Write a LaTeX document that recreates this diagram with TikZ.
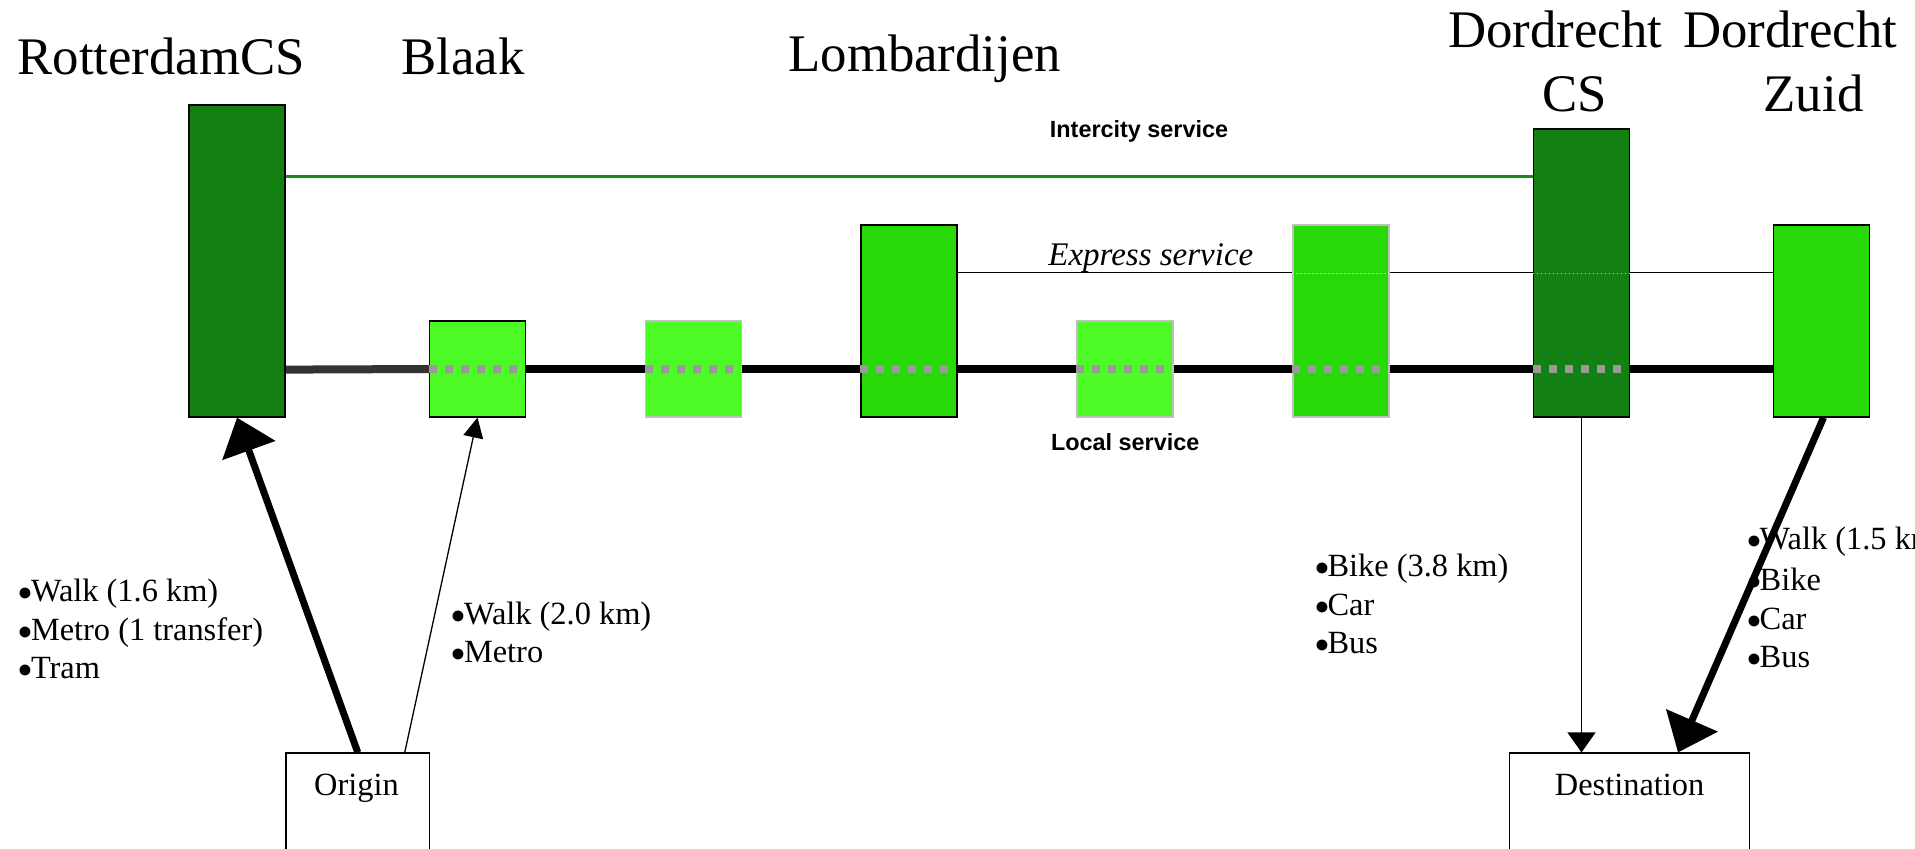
\documentclass[tikz,border=0pt]{standalone}
\usepackage{graphicx}
\usepackage{fontspec}
\setmainfont{Liberation Serif}
\newfontfamily\labsf{Liberation Sans}
\usetikzlibrary{arrows.meta,calc,backgrounds}
\definecolor{dkgreen}{HTML}{138012}
\definecolor{mdgreen}{HTML}{28D808}
\definecolor{ltgreen}{HTML}{4CFA26}
\definecolor{icgreen}{HTML}{178A17}
\definecolor{dashgray}{HTML}{999999}
\definecolor{edgegray}{HTML}{C0C0C0}
\definecolor{segdark}{HTML}{333333}
\newcommand\bul{\makebox[0.42em][l]{\raisebox{-0.22em}[0pt][0pt]{\scalebox{1.4}{•}}}}
\begin{document}
\begin{tikzpicture}[x=0.5pt, y=-0.5pt,
  stn/.style={rectangle, inner sep=0pt, minimum width=48pt, line width=0.6pt},
  txt/.style={inner sep=0pt, anchor=base west},
  ttl/.style={txt, font=\fontsize{26.4pt}{30pt}\selectfont},
  lst/.style={txt, font=\fontsize{16.2pt}{19pt}\selectfont},
  svc/.style={txt, font=\labsf\bfseries\fontsize{11.7pt}{14pt}\selectfont},
  endbox/.style={rectangle, inner sep=0pt, draw=black, line width=0.6pt, minimum height=100pt},
  intercity/.style={icgreen, line width=1.35pt},
  express/.style={black, line width=0.6pt},
  localln/.style={line width=4pt},
  gdash/.style={dashgray, line width=4pt, dash pattern=on 4pt off 4pt},
  gdot/.style={gray!45, line width=0.5pt, dash pattern=on 0.6pt off 1.4pt},
  thickarr/.style={line width=3.5pt, -{Triangle[length=17.5pt, width=27.5pt]}},
  thinarr/.style={line width=0.65pt, -{Triangle[length=10pt, width=10pt]}},
  vertarr/.style={line width=0.65pt, -{Triangle[length=10pt, width=14pt]}}]
\useasboundingbox (0,0) rectangle (1915,848);
\clip (0,0) rectangle (1915,848);

% station boxes
\path
  node[stn, fill=dkgreen, draw=black, minimum height=156pt] (rcs) at (237,261) {}
  node[stn, fill=ltgreen, draw=black, minimum height=48pt] (blaak) at (477.5,369) {}
  node[stn, fill=ltgreen, draw=edgegray, minimum height=48pt] (s2) at (693.5,369) {}
  node[stn, fill=mdgreen, draw=black, minimum height=96pt] (lomb) at (909,321) {}
  node[stn, fill=ltgreen, draw=edgegray, minimum height=48pt] (s4) at (1125,369) {}
  node[stn, fill=mdgreen, draw=edgegray, minimum height=96pt] (s5) at (1341,321) {}
  node[stn, fill=dkgreen, draw=black, minimum height=144pt] (dcs) at (1581.5,273) {}
  node[stn, fill=mdgreen, draw=black, minimum height=96pt] (dz) at (1821.5,321) {};

% origin and destination boxes
\node[endbox, minimum width=71.75pt] (origin) at (357.75,853) {};
\node[endbox, minimum width=120pt] (dest) at (1629.5,853) {};

% service lines behind the boxes
\begin{scope}[on background layer]
  \fill[white] (0,0) rectangle (1915,848);
  \draw[intercity] ($(rcs.north east)+(0,72)$) -- ($(dcs.north west)+(0,48)$);
  \draw[express] ($(lomb.north east)+(0,48)$) -- ($(dz.north west)+(0,48)$);
  \draw[localln, segdark] ($(rcs.south east)+(0,-48)$) -- (blaak.west);
  \draw[localln, black] (blaak.west) -- (dz.west |- blaak.center);
\end{scope}

% lines seen through the boxes
\foreach \b in {blaak,s2,lomb,s4,s5,dcs}
  \draw[gdash] (\b.west |- blaak.center) -- ($(\b.west |- blaak.center)+(88,0)$);
\foreach \b in {s5,dcs}
  \draw[gdot] (\b.west |- dcs.center) -- (\b.east |- dcs.center);

% access and egress connectors
\draw[thickarr] (origin.north) -- (rcs.south);
\draw[thinarr] ($(origin.north)+(47,0)$) -- (blaak.south);
\draw[vertarr] (dcs.south) -- (dcs.south |- dest.north);
\draw[thickarr] ($(dz.south)+(2,0)$) -- ($(dest.north)+(48.5,0)$);

% station names
\node[ttl] (trcs) at (17,74) {RotterdamCS};
\node[ttl] (tbl) at (401,74) {Blaak};
\node[ttl] (tlo) at (788,71) {Lombardijen};
\node[ttl] (tdc1) at (1447.7,47.7) {Dordrecht};
\node[ttl] (tdc2) at (1541.7,111.7) {CS};
\node[ttl] (tdz1) at (1682.7,47.7) {Dordrecht};
\node[ttl] (tdz2) at (1763.3,111.7) {Zuid};

% service labels
\node[svc] (lic) at (1049.5,137) {Intercity service};
\node[txt, font=\itshape\fontsize{16.5pt}{19pt}\selectfont] (lex) at (1048,265.7) {Express service};
\node[svc] (llo) at (1050.7,450) {Local service};

% origin / destination labels
\node[lst, anchor=base] (torg) at (356.5,795) {Origin};
\node[lst, anchor=base] (tdst) at (1629.6,795) {Destination};

% mode lists
\node[lst] (a1) at (17,601.7) {\bul Walk (1.6 km)};
\node[lst] (a2) at (17,640) {\bul Metro (1 transfer)};
\node[lst] (a3) at (17,678) {\bul Tram};
\node[lst] (b1) at (450,624) {\bul Walk (2.0 km)};
\node[lst] (b2) at (450,662) {\bul Metro};
\node[lst] (c1) at (1313.6,576.7) {\bul Bike (3.8 km)};
\node[lst] (c2) at (1313.6,615) {\bul Car};
\node[lst] (c3) at (1313.6,653.3) {\bul Bus};
\node[lst] (d1) at (1745.7,549.5) {\bul Walk (1.5 km)};
\node[lst] (d2) at (1745.7,590) {\bul Bike};
\node[lst] (d3) at (1745.7,629) {\bul Car};
\node[lst] (d4) at (1745.7,667.5) {\bul Bus};
\end{tikzpicture}
\end{document}
